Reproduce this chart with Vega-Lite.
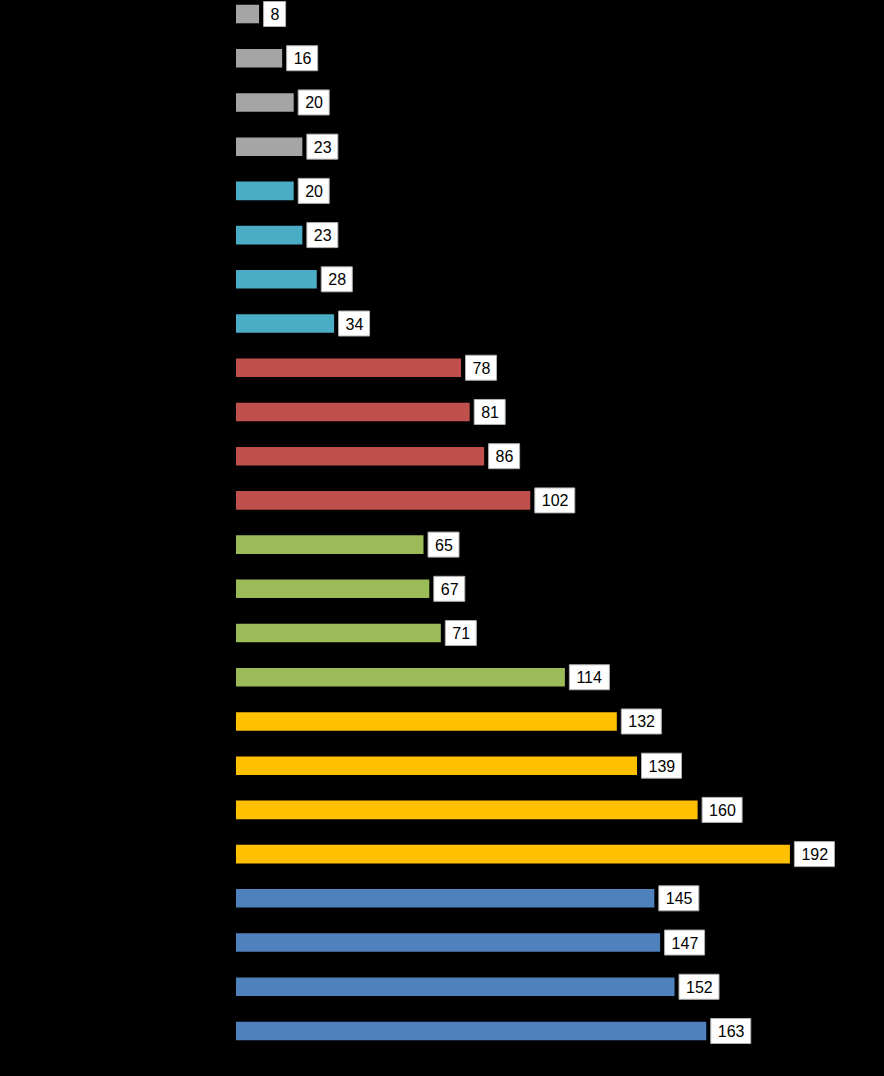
{
  "$schema": "https://vega.github.io/schema/vega-lite/v6.json",
  "autosize": "none",
  "padding": {"left": 236, "top": 0, "right": 71, "bottom": 31},
  "width": 577,
  "height": 1045,
  "background": "#000000",
  "config": {"view": {"stroke": null}},
  "data": {"values": [
    {"cat": "c01", "group": "g1", "value": 8},
    {"cat": "c02", "group": "g1", "value": 16},
    {"cat": "c03", "group": "g1", "value": 20},
    {"cat": "c04", "group": "g1", "value": 23},
    {"cat": "c05", "group": "g2", "value": 20},
    {"cat": "c06", "group": "g2", "value": 23},
    {"cat": "c07", "group": "g2", "value": 28},
    {"cat": "c08", "group": "g2", "value": 34},
    {"cat": "c09", "group": "g3", "value": 78},
    {"cat": "c10", "group": "g3", "value": 81},
    {"cat": "c11", "group": "g3", "value": 86},
    {"cat": "c12", "group": "g3", "value": 102},
    {"cat": "c13", "group": "g4", "value": 65},
    {"cat": "c14", "group": "g4", "value": 67},
    {"cat": "c15", "group": "g4", "value": 71},
    {"cat": "c16", "group": "g4", "value": 114},
    {"cat": "c17", "group": "g5", "value": 132},
    {"cat": "c18", "group": "g5", "value": 139},
    {"cat": "c19", "group": "g5", "value": 160},
    {"cat": "c20", "group": "g5", "value": 192},
    {"cat": "c21", "group": "g6", "value": 145},
    {"cat": "c22", "group": "g6", "value": 147},
    {"cat": "c23", "group": "g6", "value": 152},
    {"cat": "c24", "group": "g6", "value": 163}
  ]},
  "encoding": {
    "y": {"field": "cat", "type": "nominal", "sort": null, "axis": null,
          "scale": {"paddingInner": 0.58, "paddingOuter": 0.107}}
  },
  "layer": [
    {
      "mark": {"type": "bar"},
      "encoding": {
        "x": {"field": "value", "type": "quantitative", "axis": null,
              "scale": {"domain": [0, 200], "nice": false}},
        "color": {"field": "group", "type": "nominal", "legend": null,
                  "scale": {"domain": ["g1", "g2", "g3", "g4", "g5", "g6"],
                            "range": ["#A5A5A5", "#4BACC6", "#C0504D", "#9BBB59", "#FFC000", "#4F81BD"]}}
      }
    },
    {
      "transform": [{"filter": "datum.value < 10"}],
      "mark": {"type": "bar", "size": 25, "fill": "#ffffff", "stroke": "#b0b0b0", "strokeWidth": 1, "xOffset": 4.5, "x2Offset": 26.5},
      "encoding": {
        "x": {"field": "value", "type": "quantitative"},
        "x2": {"field": "value"}
      }
    },
    {
      "transform": [{"filter": "datum.value >= 10 && datum.value < 100"}],
      "mark": {"type": "bar", "size": 25, "fill": "#ffffff", "stroke": "#b0b0b0", "strokeWidth": 1, "xOffset": 4.5, "x2Offset": 35.5},
      "encoding": {
        "x": {"field": "value", "type": "quantitative"},
        "x2": {"field": "value"}
      }
    },
    {
      "transform": [{"filter": "datum.value >= 100"}],
      "mark": {"type": "bar", "size": 25, "fill": "#ffffff", "stroke": "#b0b0b0", "strokeWidth": 1, "xOffset": 4.5, "x2Offset": 44.5},
      "encoding": {
        "x": {"field": "value", "type": "quantitative"},
        "x2": {"field": "value"}
      }
    },
    {
      "mark": {"type": "text", "align": "left", "baseline": "middle", "dx": 11.5, "dy": 1, "font": "Liberation Sans", "fontSize": 16, "color": "#000000"},
      "encoding": {
        "x": {"field": "value", "type": "quantitative"},
        "text": {"field": "value", "type": "quantitative"}
      }
    }
  ]
}
